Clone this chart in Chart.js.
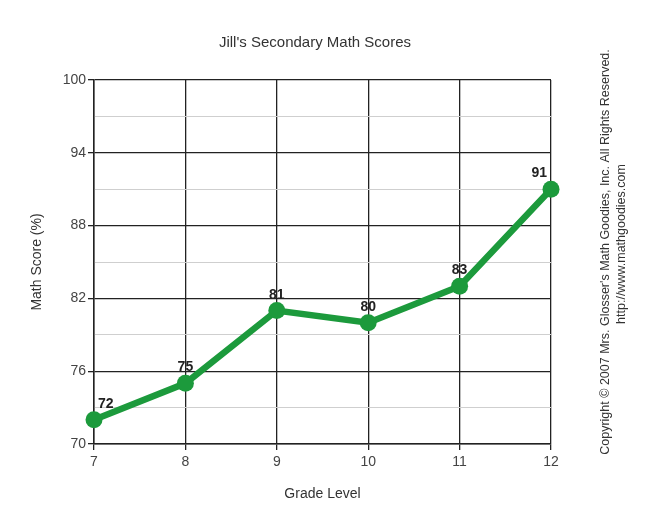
<!DOCTYPE html>
<html>
<head>
<meta charset="utf-8">
<script src="https://cdn.jsdelivr.net/npm/chart.js@4"></script>
<style>
  html, body { margin: 0; padding: 0; background: #fff; }
  #wrap { width: 654px; height: 521px; }
</style>
</head>
<body>
<div id="wrap"><canvas id="mathChart" width="654" height="521"></canvas></div>
<script>
// Jill's scores by grade
const grades = [7, 8, 9, 10, 11, 12];
const scores = [72, 75, 81, 80, 83, 91];
const yMajorTicks = [70, 76, 82, 88, 94, 100];

const chartTitle = "Jill's Secondary Math Scores";
const copyrightLines = [
    "Copyright \u00A9 2007 Mrs. Glosser's Math Goodies, Inc. All Rights Reserved.",
    "http://www.mathgoodies.com"
];

const green = '#1c9a3c';
const font = 'Liberation Sans, Arial, sans-serif';

// draws value labels, title and the copyright notice
const extrasPlugin = {
    id: 'extras',
    afterDatasetsDraw(chart) {
        const ctx = chart.ctx;
        const area = chart.chartArea;
        const meta = chart.getDatasetMeta(0);
        ctx.save();
        ctx.font = 'bold 14px ' + font;
        ctx.fillStyle = '#222';
        ctx.textAlign = 'center';
        ctx.textBaseline = 'alphabetic';
        meta.data.forEach((pt, i) => {
            const txt = String(scores[i]);
            const w = ctx.measureText(txt).width;
            // keep labels inside the plot box
            let x = Math.max(pt.x, area.left + w / 2 + 4);
            x = Math.min(x, area.right - w / 2 - 4);
            ctx.fillText(txt, x, pt.y - 12);
        });
        ctx.restore();
    },
    afterDraw(chart) {
        const ctx = chart.ctx;
        ctx.save();
        ctx.fillStyle = '#333';
        ctx.font = '15px ' + font;
        ctx.textAlign = 'center';
        ctx.textBaseline = 'middle';
        ctx.fillText(chartTitle, 315, 43);

        // vertical copyright text, bottom to top
        ctx.font = '12.5px ' + font;
        ctx.translate(614, 252);
        ctx.rotate(-Math.PI / 2);
        ctx.fillText(copyrightLines[0], 0, -8);
        ctx.fillText(copyrightLines[1], 8, 8);
        ctx.restore();
    }
};

const ctx = document.getElementById('mathChart').getContext('2d');
const mathChart = new Chart(ctx, {
    type: 'line',
    data: {
        datasets: [{
            label: 'Math Score',
            data: grades.map((g, i) => ({ x: g, y: scores[i] })),
            borderColor: green,
            backgroundColor: green,
            borderWidth: 6.5,
            pointRadius: 8.5,
            pointHoverRadius: 8.5,
            pointBorderWidth: 0,
            tension: 0,
            fill: false,
            clip: false
        }]
    },
    options: {
        responsive: false,
        animation: false,
        devicePixelRatio: 1,
        layout: { padding: { left: 0, top: 80, right: 103, bottom: 0 } },
        plugins: {
            legend: { display: false },
            tooltip: { enabled: false }
        },
        scales: {
            x: {
                type: 'linear',
                min: 7,
                max: 12,
                afterFit(scale) { scale.height = 77; },
                ticks: {
                    stepSize: 1,
                    color: '#444',
                    padding: 4,
                    font: { size: 14, family: font }
                },
                grid: {
                    color: '#222',
                    lineWidth: 1.3,
                    tickLength: 6,
                    tickColor: '#222'
                },
                border: { color: '#222', width: 1.5 },
                title: {
                    display: true,
                    text: 'Grade Level',
                    color: '#333',
                    font: { size: 14, family: font },
                    padding: { top: 0, bottom: 18 }
                }
            },
            y: {
                min: 70,
                max: 100,
                afterFit(scale) { scale.width = 94; },
                ticks: {
                    stepSize: 3,
                    color: '#444',
                    padding: 2,
                    font: { size: 14, family: font },
                    callback: (v) => yMajorTicks.includes(v) ? v : ''
                },
                grid: {
                    color: (c) => yMajorTicks.includes(c.tick.value) ? '#222' : '#cfcfcf',
                    lineWidth: (c) => yMajorTicks.includes(c.tick.value) ? 1.3 : 1,
                    tickColor: (c) => yMajorTicks.includes(c.tick.value) ? '#222' : 'rgba(0,0,0,0)',
                    tickLength: 6
                },
                border: { color: '#222', width: 1.5 },
                title: {
                    display: true,
                    text: 'Math Score (%)',
                    color: '#333',
                    font: { size: 14, family: font },
                    padding: { top: 29, bottom: 0 }
                }
            }
        }
    },
    plugins: [extrasPlugin]
});
</script>
</body>
</html>
